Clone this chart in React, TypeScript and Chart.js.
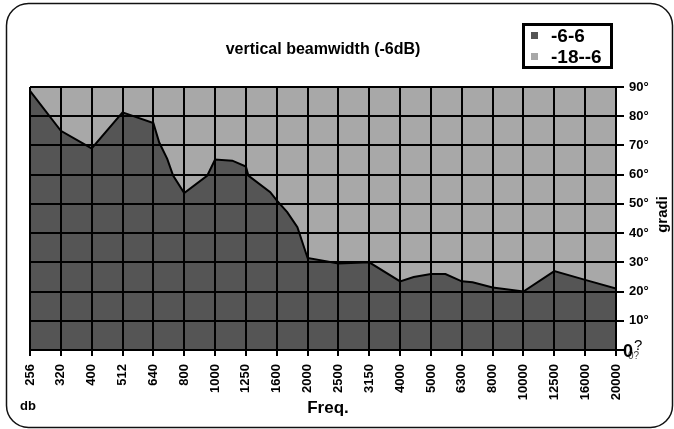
import React, { useEffect, useRef } from 'react';
import { Chart, registerables } from 'chart.js';

Chart.register(...registerables);

// ---- data ----
const freqLabels = ['256', '320', '400', '512', '640', '800', '1000', '1250', '1600', '2000', '2500', '3150', '4000', '5000', '6300', '8000', '10000', '12500', '16000', '20000'];

// contour of the -6 dB band (category position, degrees)
const contourPositions = [0, 1, 2, 3, 4, 4.19, 4.45, 4.64, 5, 5.75, 6, 6.56, 7, 7.08, 7.79, 8, 8.34, 8.67, 9, 10, 11, 12, 12.44, 13, 13.47, 14, 14.35, 15, 16, 17, 18, 19];
const contourDegrees = [88.7, 75, 69, 81.3, 77.7, 71, 65.4, 59.7, 53.7, 59.7, 65.2, 64.8, 62.8, 59.7, 54, 51.2, 47.2, 42, 31.5, 29.6, 30, 23.5, 25, 26, 26, 23.5, 23.2, 21.4, 20, 27, 24, 21];

// upper band (-18 .. -6 dB) fills the plot up to 90 degrees
const bandPositions = [0, 19];
const bandDegrees = [90, 90];

const legendLabels = ['-6-6', '-18--6'];
const chartTitle = 'vertical beamwidth (-6dB)';
const xAxisTitle = 'Freq.';
const yAxisTitle = 'gradi';
const cornerNote = 'db';

const DARK = '#555555';
const LIGHT = '#a8a8a8';
const FONT = '"Liberation Sans", Arial, sans-serif';

const decorPlugin = {
  id: 'decor',
  afterDraw(chart: any) {
    const ctx = chart.ctx as CanvasRenderingContext2D;
    const area = chart.chartArea;
    ctx.save();
    // outer rounded frame
    ctx.strokeStyle = '#111';
    ctx.lineWidth = 1.5;
    ctx.beginPath();
    (ctx as any).roundRect(6.5, 3.5, 666, 424, 22);
    ctx.stroke();

    ctx.fillStyle = '#000';
    // title
    ctx.font = `bold 16px ${FONT}`;
    ctx.textAlign = 'center';
    ctx.textBaseline = 'middle';
    ctx.fillText(chartTitle, (area.left + area.right) / 2, 50);

    // legend
    ctx.lineWidth = 3;
    ctx.strokeStyle = '#000';
    ctx.strokeRect(523.5, 24.5, 88, 43);
    const ds = chart.data.datasets;
    ctx.font = `bold 19px ${FONT}`;
    ctx.textAlign = 'left';
    ds.forEach((d: any, i: number) => {
      const cy = 36 + i * 21;
      ctx.fillStyle = d.backgroundColor;
      ctx.fillRect(531, cy - 4, 7, 7);
      ctx.fillStyle = '#000';
      ctx.fillText(d.label, 551, cy + 1);
    });

    // x axis title + corner note
    ctx.font = `bold 17px ${FONT}`;
    ctx.textAlign = 'center';
    ctx.fillText(xAxisTitle, (area.left + area.right) / 2 + 5, 408);
    ctx.font = `bold 13px ${FONT}`;
    ctx.textAlign = 'left';
    ctx.fillText(cornerNote, 20, 406);

    // y axis title (reads bottom to top)
    ctx.save();
    ctx.translate(663, (area.top + area.bottom) / 2 - 4);
    ctx.rotate(-Math.PI / 2);
    ctx.font = `bold 15px ${FONT}`;
    ctx.textAlign = 'center';
    ctx.fillText(yAxisTitle, 0, 0);
    ctx.restore();

    // garbled zero label
    const y0 = chart.scales.y.getPixelForValue(0);
    const x0 = area.right + 7;
    ctx.textAlign = 'left';
    ctx.font = `10px ${FONT}`;
    ctx.fillStyle = '#444';
    ctx.fillText('0?', x0 + 5, y0 + 6);
    ctx.fillStyle = '#000';
    ctx.font = `bold 18px ${FONT}`;
    ctx.fillText('0', x0, y0 + 2);
    ctx.font = `15px ${FONT}`;
    ctx.fillText('?', x0 + 11, y0 - 4);
    ctx.restore();
  },
};

export default function App() {
  const ref = useRef<HTMLCanvasElement | null>(null);

  useEffect(() => {
    if (!ref.current) return;
    const chart = new Chart(ref.current, {
      type: 'line',
      data: {
        datasets: [
          {
            label: legendLabels[0],
            data: contourPositions.map((x, i) => ({ x, y: contourDegrees[i] })),
            backgroundColor: DARK,
            borderColor: '#000',
            borderWidth: 2,
            fill: 'origin',
            pointRadius: 0,
            tension: 0,
          },
          {
            label: legendLabels[1],
            data: bandPositions.map((x, i) => ({ x, y: bandDegrees[i] })),
            backgroundColor: LIGHT,
            borderColor: LIGHT,
            borderWidth: 0,
            fill: 'origin',
            pointRadius: 0,
          },
        ],
      },
      options: {
        animation: false,
        responsive: false,
        devicePixelRatio: 1,
        layout: { padding: { left: 30, top: 87, right: 0, bottom: 0 } },
        plugins: {
          legend: { display: false },
          title: { display: false },
          tooltip: { enabled: false },
        },
        scales: {
          x: {
            type: 'linear',
            min: 0,
            max: 19,
            afterFit: (s: any) => {
              s.height = 79;
            },
            ticks: {
              stepSize: 1,
              autoSkip: false,
              minRotation: 90,
              maxRotation: 90,
              padding: 8,
              color: '#000',
              z: 2,
              font: { family: FONT, size: 13, weight: 'bold' },
              callback: (v: any) => freqLabels[v as number] ?? '',
            },
            grid: { color: '#000', lineWidth: 2, tickLength: 6, drawTicks: true, z: 1 },
            border: { color: '#000', width: 2, z: 2 },
          },
          y: {
            position: 'right',
            min: 0,
            max: 90,
            afterFit: (s: any) => {
              s.width = 58;
            },
            ticks: {
              stepSize: 10,
              padding: 5,
              color: '#000',
              z: 2,
              font: { family: FONT, size: 13, weight: 'bold' },
              callback: (v: any) => (v === 0 ? '' : `${v}°`),
            },
            grid: { color: '#000', lineWidth: 2, tickLength: 8, drawTicks: true, z: 1 },
            border: { color: '#000', width: 2, z: 2 },
          },
        },
      } as any,
      plugins: [decorPlugin],
    });
    return () => chart.destroy();
  }, []);

  return (
    <div style={{ position: 'absolute', left: 0, top: 0, width: 674, height: 429, background: '#fff' }}>
      <canvas ref={ref} width={674} height={429} style={{ display: 'block' }} />
    </div>
  );
}
